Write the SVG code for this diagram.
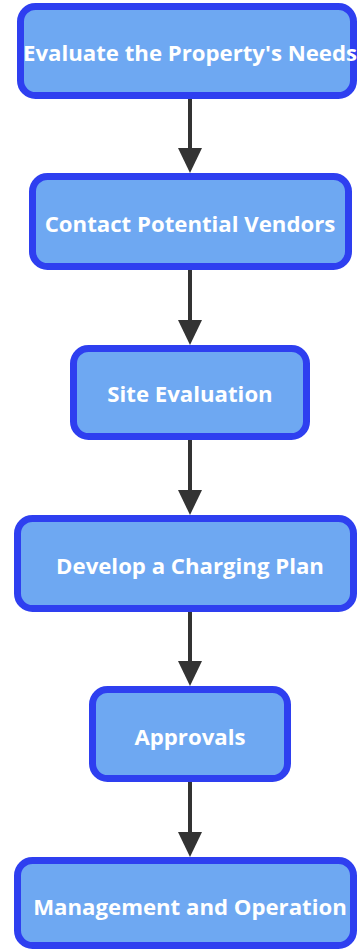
<svg xmlns="http://www.w3.org/2000/svg" width="357" height="950" viewBox="0 0 357 950">
<style>
.box{fill:#6ea8f2;stroke:#2e3ff0;stroke-width:7}
.lbl{font-family:"Open Sans","Noto Sans",sans-serif;font-weight:bold;font-size:22.2px;fill:#ffffff;text-anchor:middle;dominant-baseline:central}
.edge{stroke:#333333;stroke-width:4;fill:none}
.head{fill:#333333}
</style>
<rect width="357" height="950" fill="#ffffff"/>
<g id="connectors">
<line class="edge" x1="190" y1="99" x2="190" y2="150"/><polygon class="head" points="178,148 202,148 190,173"/>
<line class="edge" x1="190" y1="270" x2="190" y2="322"/><polygon class="head" points="178,320 202,320 190,345"/>
<line class="edge" x1="190" y1="440" x2="190" y2="492"/><polygon class="head" points="178,490 202,490 190,515"/>
<line class="edge" x1="190" y1="612" x2="190" y2="663"/><polygon class="head" points="178,661 202,661 190,686"/>
<line class="edge" x1="190" y1="782" x2="190" y2="834"/><polygon class="head" points="178,832 202,832 190,857"/>
</g>
<g id="n1"><rect class="box" x="20.5" y="6.5" width="333" height="89" rx="15"/><text class="lbl" x="190" y="52">Evaluate the Property's Needs</text></g>
<g id="n2"><rect class="box" x="32.5" y="176.5" width="316" height="90" rx="15"/><text class="lbl" x="190" y="223">Contact Potential Vendors</text></g>
<g id="n3"><rect class="box" x="73.5" y="348.5" width="233" height="88" rx="15"/><text class="lbl" x="190" y="393">Site Evaluation</text></g>
<g id="n4"><rect class="box" x="17.5" y="518.5" width="336" height="90" rx="15"/><text class="lbl" x="190" y="565">Develop a Charging Plan</text></g>
<g id="n5"><rect class="box" x="92.5" y="689.5" width="195" height="89" rx="15"/><text class="lbl" x="190" y="736">Approvals</text></g>
<g id="n6"><rect class="box" x="17.5" y="860.5" width="336" height="85" rx="15"/><text class="lbl" x="190" y="906">Management and Operation</text></g>
</svg>
